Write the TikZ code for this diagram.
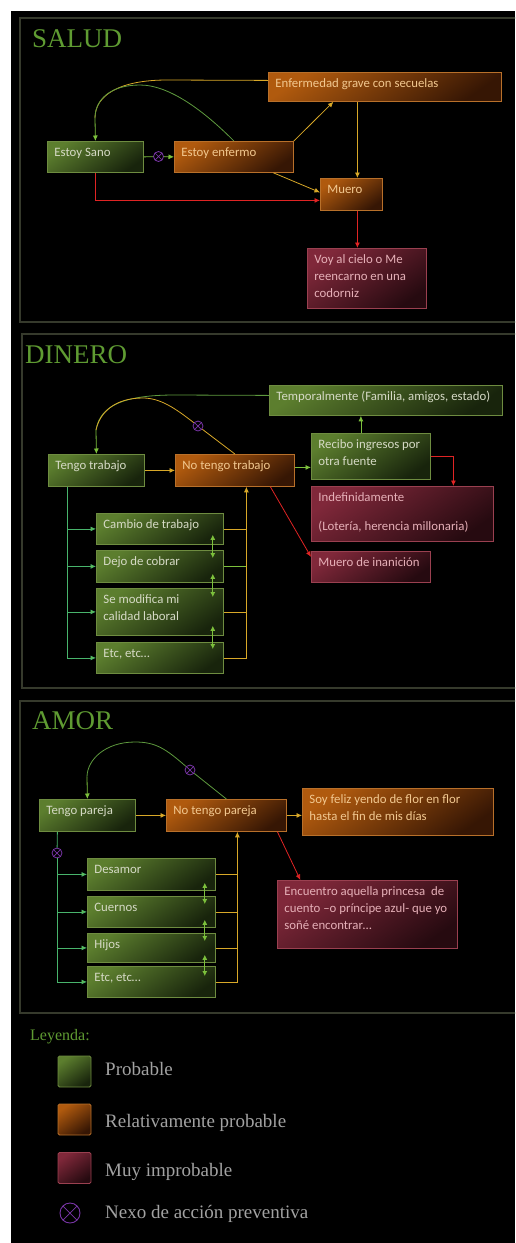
\documentclass[tikz,border=0pt]{standalone}
\usepackage{fontspec}
\newfontfamily\boxfont{Carlito}
\newfontfamily\serfont{Liberation Serif}
\usetikzlibrary{arrows.meta}
\definecolor{gtop}{HTML}{5C7E2E}
\definecolor{gbot}{HTML}{18240C}
\definecolor{gbor}{HTML}{6E8C40}
\definecolor{gtxt}{HTML}{D6DAC6}
\definecolor{otop}{HTML}{B05A0E}
\definecolor{obot}{HTML}{361604}
\definecolor{obor}{HTML}{B8702A}
\definecolor{otxt}{HTML}{F2C890}
\definecolor{rtop}{HTML}{80283A}
\definecolor{rbot}{HTML}{260A10}
\definecolor{rbor}{HTML}{9A4050}
\definecolor{rtxt}{HTML}{E6B0B8}
\definecolor{cgrn}{HTML}{7CC03C}
\definecolor{cgrnd}{HTML}{5E9A3E}
\definecolor{cylw}{HTML}{D8A828}
\definecolor{cred}{HTML}{E02424}
\definecolor{cteal}{HTML}{48B46C}
\definecolor{purp}{HTML}{7A36A8}
\definecolor{frm}{HTML}{363A2C}
\definecolor{ttl}{HTML}{5F9B32}
\definecolor{legtxt}{HTML}{A2A2A2}
\tikzset{
  bfont/.style={font=\boxfont\fontsize{12.8}{17}\selectfont},
  gbox/.style={draw=gbor, line width=0.8pt, top color=gtop, bottom color=gbot, shading angle=35, text=gtxt, bfont},
  obox/.style={draw=obor, line width=0.8pt, top color=otop, bottom color=obot, shading angle=35, text=otxt, bfont},
  rbox/.style={draw=rbor, line width=0.8pt, top color=rtop, bottom color=rbot, shading angle=35, text=rtxt, bfont},
  tip/.style={-{Latex[length=5.5pt,width=5pt]}},
  conn/.style={line width=0.8pt},
  ylw/.style={conn, draw=cylw},
  yarrow/.style={ylw, tip},
  gline/.style={conn, draw=cgrn},
  garrow/.style={gline, tip},
  cgreen/.style={conn, draw=cgrnd},
  rarrow/.style={conn, draw=cred, tip},
  tline/.style={conn, draw=cteal},
  tarrow/.style={tline, -{Latex[length=5.5pt,width=5pt,fill=cgrn]}},
  darrow/.style={conn, draw=cgrn, {Latex[length=5pt,width=5pt]}-{Latex[length=5pt,width=5pt]}},
  xcirc/.style={circle, draw=purp, line width=0.8pt, fill=black, minimum size=10pt, inner sep=0pt,
    path picture={\draw[purp, line width=0.7pt] (path picture bounding box.north west) -- (path picture bounding box.south east) (path picture bounding box.north east) -- (path picture bounding box.south west);}},
  xcircbig/.style={xcirc, minimum size=20pt, line width=0.9pt},
  frame/.style={draw=frm, line width=1.3pt},
  title/.style={anchor=base west, inner sep=0pt, text=ttl, font=\serfont\fontsize{27}{30}\selectfont},
  legsq/.style={minimum width=33pt, minimum height=31pt, inner sep=0pt, rounded corners=1.5pt, line width=0.8pt},
  legtext/.style={anchor=base west, inner sep=0pt, text=legtxt, font=\serfont\fontsize{19}{22}\selectfont},
}
\newcommand\mkbox[7]{\node[#1, anchor=north west, minimum width=#5pt, minimum height=#6pt, inner sep=0pt] (#2) at (#3,-#4) {\parbox[c][#6pt][t]{#5pt}{\leftskip=7pt\rightskip=0pt plus 1fil\parindent=0pt\vspace*{3.5pt}\strut #7}};}
\begin{document}
\begin{tikzpicture}[x=1pt,y=1pt]
\useasboundingbox (0,0) rectangle (515,-1243);
\clip (0,0) rectangle (515,-1243);
\fill[white] (0,0) rectangle (515,-1243);
\fill[black] (11,-11) rectangle (515,-1243);
% panels
\draw[frame] (20,-18) rectangle (530,-322);
\draw[frame] (22,-334) rectangle (530,-688);
\draw[frame] (20,-701) rectangle (530,-1013);
\node[title] (tsalud) at (32,-47) {SALUD};
\node[title] (tdinero) at (25,-363) {DINERO};
\node[title] (tamor) at (32,-729) {AMOR};
% ---------------- SALUD
\mkbox{obox}{grave}{268}{72}{233}{29}{Enfermedad grave con secuelas}
\mkbox{gbox}{sano}{47}{141}{96}{31}{Estoy Sano}
\mkbox{obox}{enf}{174}{141}{119}{31}{Estoy enfermo}
\mkbox{obox}{muero}{320}{178}{62}{32}{Muero}
\mkbox{rbox}{cielo}{307}{248}{119}{60}{Voy al cielo o Me\\reencarno en una\\codorniz}
\node[xcirc] (c1) at (158.5,-156.5) {};
\coordinate (sj) at (95,-118);
\draw[ylw] ([yshift=6.5pt]grave.west) -- (167,-80) .. controls (120,-80) and (95,-95) .. (sj);
\draw[cgreen] (enf.north) .. controls (205,-112) and (170,-85) .. (140,-85) .. controls (110,-85) and (95,-100) .. (sj);
\draw[garrow] (sj) -- (sano.north);
\draw[gline] (sano.east) -- (c1);
\draw[garrow] (c1) -- (enf.west);
\draw[yarrow] (enf.north east) -- ([xshift=-51.5pt]grave.south);
\draw[yarrow] ([xshift=6pt]muero.north |- grave.south) -- ([xshift=6pt]muero.north);
\draw[yarrow] ([xshift=39.5pt]enf.south) -- ([yshift=2pt]muero.west);
\draw[rarrow] (sano.south) |- ([yshift=-6pt]muero.west);
\draw[rarrow] ([xshift=6pt]muero.south) -- ([xshift=6pt]muero.south |- cielo.north);
% ---------------- DINERO
\mkbox{gbox}{temp}{269}{385}{233}{30}{Temporalmente (Familia, amigos, estado)}
\mkbox{gbox}{recibo}{311}{433}{119}{46}{Recibo ingresos por\\otra fuente}
\mkbox{gbox}{tengo}{48}{454}{96}{32}{Tengo trabajo}
\mkbox{obox}{notrab}{175}{454}{119}{32}{No tengo trabajo}
\mkbox{rbox}{indef}{311}{486}{182}{55}{Indefinidamente\\[12pt](Lotería, herencia millonaria)}
\mkbox{rbox}{inan}{311}{551}{119}{31}{Muero de inanición}
\mkbox{gbox}{cambio}{96}{513}{127}{31}{Cambio de trabajo}
\mkbox{gbox}{dejo}{96}{550}{127}{32}{Dejo de cobrar}
\mkbox{gbox}{semod}{96}{588}{127}{47}{Se modifica mi\\calidad laboral}
\mkbox{gbox}{etca}{96}{642}{127}{31}{Etc, etc…}
\node[xcirc] (c2) at (198,-426) {};
\coordinate (dj) at (96,-430);
\draw[cgreen] ([yshift=5pt]temp.west) -- (175,-395) .. controls (125,-395) and (100,-405) .. (dj);
\draw[ylw] (notrab.north) -- (c2) (c2) .. controls (175,-408) and (160,-398) .. (143,-398) .. controls (115,-398) and (100,-412) .. (dj);
\draw[garrow] (dj) -- (tengo.north);
\draw[yarrow] (tengo.east) -- (notrab.west);
\draw[garrow] ([yshift=3pt]notrab.east) -- ([yshift=3pt]notrab.east -| recibo.west);
\draw[garrow] ([xshift=-10pt]recibo.north) -- ([xshift=-10pt]recibo.north |- temp.south);
\draw[rarrow] (recibo.east) -| ([xshift=51pt]indef.north);
\draw[rarrow] ([xshift=35.5pt]notrab.south) -- ([yshift=10pt]inan.west);
\coordinate (tb) at ([xshift=-29pt]tengo.south);
\draw[tarrow] (tb) |- (cambio.west);
\draw[tarrow] (tb) |- (dejo.west);
\draw[tarrow] (tb) |- (semod.west);
\draw[tarrow] (tb) |- (etca.west);
\coordinate (rv) at ([xshift=11.5pt]notrab.south);
\draw[yarrow] (etca.east) -| (rv);
\draw[ylw] (cambio.east) -- (cambio.east -| rv);
\draw[gline] (dejo.east) -- (dejo.east -| rv);
\draw[ylw] (semod.east) -- (semod.east -| rv);
\draw[darrow] ([xshift=-11pt,yshift=10pt]cambio.south east) -- ([xshift=-11pt,yshift=-8pt]dejo.north east);
\draw[darrow] ([xshift=-11pt,yshift=9pt]dejo.south east) -- ([xshift=-11pt,yshift=-9pt]semod.north east);
\draw[darrow] ([xshift=-11pt,yshift=10pt]semod.south east) -- ([xshift=-11pt,yshift=-7pt]etca.north east);
% ---------------- AMOR
\mkbox{gbox}{tp}{39}{799}{96}{32}{Tengo pareja}
\mkbox{obox}{np}{166}{799}{120}{32}{No tengo pareja}
\mkbox{obox}{soy}{302}{788}{191}{47}{Soy feliz yendo de flor en flor\\hasta el fin de mis días}
\mkbox{rbox}{enc}{277}{880}{180}{68}{Encuentro aquella princesa~ de\\cuento –o príncipe azul- que yo\\soñé encontrar…}
\mkbox{gbox}{desamor}{87}{858}{128}{32}{Desamor}
\mkbox{gbox}{cuernos}{87}{896}{128}{31}{Cuernos}
\mkbox{gbox}{hijos}{87}{933}{128}{29}{Hijos}
\mkbox{gbox}{etcb}{87}{966}{128}{31}{Etc, etc…}
\node[xcirc] (c3) at (190,-770) {};
\node[xcirc] (c4) at (57,-853) {};
\coordinate (aj) at (87,-777);
\draw[cgreen] (np.north) -- (c3) (c3) .. controls (165,-748) and (155,-742) .. (135,-742) .. controls (105,-742) and (87,-760) .. (aj);
\draw[garrow] (aj) -- (tp.north);
\draw[yarrow] (tp.east) -- (tp.east -| np.west);
\draw[yarrow] (np.east) -- (np.east -| soy.west);
\draw[rarrow] ([xshift=51pt]np.south) -- ([xshift=-67pt]enc.north);
\coordinate (ab) at ([xshift=-30pt]tp.south);
\draw[tline] (ab) -- (c4);
\draw[tarrow] (c4) |- (desamor.west);
\draw[tarrow] (c4) |- (cuernos.west);
\draw[tarrow] (c4) |- (hijos.west);
\draw[tarrow] (c4) |- (etcb.west);
\coordinate (arv) at ([xshift=11pt]np.south);
\draw[yarrow] (etcb.east) -| (arv);
\draw[ylw] (desamor.east) -- (desamor.east -| arv);
\draw[ylw] (cuernos.east) -- (cuernos.east -| arv);
\draw[ylw] (hijos.east) -- (hijos.east -| arv);
\draw[darrow] ([xshift=-11pt,yshift=8pt]desamor.south east) -- ([xshift=-11pt,yshift=-8pt]cuernos.north east);
\draw[darrow] ([xshift=-11pt,yshift=8pt]cuernos.south east) -- ([xshift=-11pt,yshift=-8pt]hijos.north east);
\draw[darrow] ([xshift=-11pt,yshift=8pt]hijos.south east) -- ([xshift=-11pt,yshift=-10pt]etcb.north east);
% ---------------- Legend
\node[anchor=base west, inner sep=0pt, text=ttl, font=\serfont\fontsize{16}{18}\selectfont] (ley) at (30,-1040) {Leyenda:};
\node[legsq, draw=gbor, top color=gtop, bottom color=gbot, shading angle=35] (lg1) at (74.5,-1071.5) {};
\node[legsq, draw=obor, top color=otop, bottom color=obot, shading angle=35] (lg2) at (74.5,-1119.5) {};
\node[legsq, draw=rbor, top color=rtop, bottom color=rbot, shading angle=35] (lg3) at (74.5,-1168) {};
\node[xcircbig] (lg4) at (70,-1213) {};
\node[legtext] (lt1) at (105,-1075) {Probable};
\node[legtext] (lt2) at (105,-1127) {Relativamente probable};
\node[legtext] (lt3) at (105,-1176) {Muy improbable};
\node[legtext] (lt4) at (105,-1218) {Nexo de acción preventiva};
\end{tikzpicture}
\end{document}
